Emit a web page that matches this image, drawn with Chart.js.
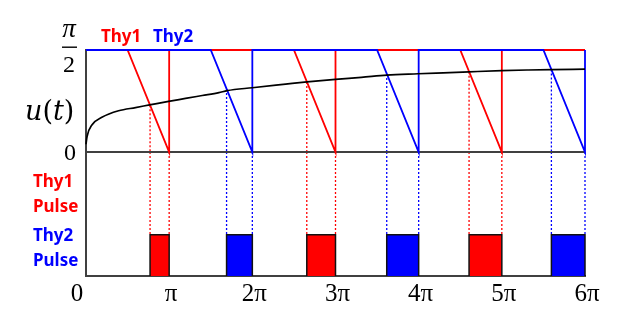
<!DOCTYPE html>
<html lang="en">
<head>
<meta charset="UTF-8">
<title>Thyristor firing pulses</title>
<script src="https://cdn.jsdelivr.net/npm/chart.js"></script>
<style>
  body { margin: 0; background: #fff; }
</style>
</head>
<body>
<canvas id="chart" width="626" height="329"></canvas>
<script>
const PI = Math.PI;

// x axis ticks, multiples of pi
const tickValues = [0, PI, 2 * PI, 3 * PI, 4 * PI, 5 * PI, 6 * PI];
const tickLabels = ['0', 'π', '2π', '3π', '4π', '5π', '6π'];

// control voltage u(t)
const uT   = [0, 0.04, 0.23, 0.6, 1.23, 1.87, 2.4, 3.12, 3.76, 4.39, 5.02, 5.33, 6.28, 7.54, 8.35, 9.42, 10.4, 11.36, 12.54, 13.5, 14.47, 15.7, 16.7, 17.58, 18.85];
const uVal = [0.12, 0.24, 0.42, 0.535, 0.635, 0.685, 0.725, 0.78, 0.825, 0.87, 0.915, 0.945, 0.99, 1.045, 1.08, 1.12, 1.15, 1.185, 1.205, 1.22, 1.235, 1.253, 1.263, 1.27, 1.275];

// sawtooth reference for each thyristor
const thy1RampT = [0, PI / 2, PI, PI, 5 * PI / 2, 3 * PI, 3 * PI, 9 * PI / 2, 5 * PI, 5 * PI, 6 * PI];
const thy1RampV = [PI / 2, PI / 2, 0, PI / 2, PI / 2, 0, PI / 2, PI / 2, 0, PI / 2, PI / 2];
const thy2RampT = [0, 3 * PI / 2, 2 * PI, 2 * PI, 7 * PI / 2, 4 * PI, 4 * PI, 11 * PI / 2, 6 * PI, 6 * PI];
const thy2RampV = [PI / 2, PI / 2, 0, PI / 2, PI / 2, 0, PI / 2, PI / 2, 0, PI / 2];

// firing points (ramp meets u) and pulse end
const thy1On  = [2.42, 8.34, 14.47];
const thy1OnU = [0.72, 1.08, 1.235];
const thy1Off = [PI, 3 * PI, 5 * PI];
const thy2On  = [5.31, 11.36, 17.58];
const thy2OnU = [0.97, 1.20, 1.27];
const thy2Off = [2 * PI, 4 * PI, 6 * PI];

const pulseTop = 1;   // lower panel runs 0..3
const pulseMax = 3;

const RED = '#ff0000', BLUE = '#0000ff', AXIS = '#404040';

function pts(xs, ys) {
    return xs.map(function(x, i) { return { x: x, y: ys[i] }; });
}

// dotted drop lines in the upper panel (from u down to 0)
function upperDrops(on, onU) {
    const out = [];
    on.forEach(function(t, i) {
        out.push({ x: t, y: onU[i] }, { x: t, y: 0 }, { x: t, y: null });
    });
    return out;
}

// dotted drop lines in the lower panel (down to the pulse top)
function lowerDrops(on, off) {
    const out = [];
    on.forEach(function(t, i) {
        out.push({ x: t, y: pulseMax }, { x: t, y: pulseTop }, { x: t, y: null });
        out.push({ x: off[i], y: pulseMax }, { x: off[i], y: pulseTop }, { x: off[i], y: null });
    });
    return out;
}

function line(data, color, width, extra) {
    return Object.assign({
        type: 'line', data: data, borderColor: color, borderWidth: width,
        pointRadius: 0, tension: 0, fill: false, clip: false, spanGaps: false, yAxisID: 'y'
    }, extra || {});
}

const datasets = [];

datasets.push(line(pts(uT, uVal), '#000', 1.7, { cubicInterpolationMode: 'monotone', order: 1 }));
datasets.push(line(pts(thy2RampT, thy2RampV), BLUE, 1.8, { order: 2 }));
datasets.push(line(pts(thy1RampT, thy1RampV), RED, 1.8, { order: 3 }));
datasets.push(line([{ x: 0, y: 0 }, { x: 6 * PI, y: 0 }], AXIS, 2, { order: 4 }));
datasets.push(line(upperDrops(thy1On, thy1OnU), RED, 1.3, { borderDash: [2, 2], order: 5 }));
datasets.push(line(upperDrops(thy2On, thy2OnU), BLUE, 1.3, { borderDash: [2, 2], order: 5 }));
datasets.push(line(lowerDrops(thy1On, thy1Off), RED, 1.3, { borderDash: [2, 2], yAxisID: 'y2', order: 6 }));
datasets.push(line(lowerDrops(thy2On, thy2Off), BLUE, 1.3, { borderDash: [2, 2], yAxisID: 'y2', order: 6 }));

// pulse blocks, filled down to the axis
[[thy1On, thy1Off, RED], [thy2On, thy2Off, BLUE]].forEach(function(p) {
    p[0].forEach(function(t, i) {
        const t2 = p[1][i];
        datasets.push(line([
            { x: t, y: 0 }, { x: t, y: pulseTop }, { x: t2, y: pulseTop }, { x: t2, y: 0 }
        ], '#111', 1.5, { yAxisID: 'y2', fill: 'origin', backgroundColor: p[2], order: 0 }));
    });
});

// text around the axes
const labelsPlugin = {
    id: 'labels',
    afterDraw: function(chart) {
        const ctx = chart.ctx;
        const x = chart.scales.x, y = chart.scales.y;
        ctx.save();
        ctx.fillStyle = '#000';
        ctx.textBaseline = 'alphabetic';
        ctx.textAlign = 'center';

        // x tick labels
        ctx.font = '25px "Liberation Serif"';
        tickValues.forEach(function(v, i) {
            const shift = i === 0 ? -9 : 2;
            ctx.fillText(tickLabels[i], x.getPixelForValue(v) + shift, 301);
        });

        // y labels: pi/2 fraction and 0
        const yTop = y.getPixelForValue(PI / 2);
        ctx.font = 'italic 27px "Liberation Serif"';
        ctx.fillText('π', 69, yTop - 13);
        ctx.font = '24px "Liberation Serif"';
        ctx.fillText('2', 69, yTop + 22);
        ctx.fillRect(62, yTop - 3.5, 15, 1.4);
        ctx.fillText('0', 70, y.getPixelForValue(0) + 8);

        // u(t)
        ctx.textAlign = 'left';
        let cx = 25;
        const by = 120;
        [['u', 'italic'], ['(', 'normal'], ['t', 'italic'], [')', 'normal']].forEach(function(s) {
            ctx.font = s[1] + ' 27px "DejaVu Serif"';
            ctx.fillText(s[0], cx, by);
            cx += ctx.measureText(s[0]).width;
        });

        // legend and pulse row names
        ctx.font = 'bold 17px "Noto Sans"';
        ctx.fillStyle = RED;
        ctx.fillText('Thy1', 101, 42);
        ctx.fillText('Thy1', 33, 187);
        ctx.fillText('Pulse', 33, 212);
        ctx.fillStyle = BLUE;
        ctx.fillText('Thy2', 153, 42);
        ctx.fillText('Thy2', 33, 241);
        ctx.fillText('Pulse', 33, 266);
        ctx.restore();
    }
};

const hidden = { display: false, drawTicks: false };

new Chart(document.getElementById('chart'), {
    type: 'line',
    data: { datasets: datasets },
    options: {
        responsive: false,
        animation: false,
        layout: { padding: { left: 86, right: 41, top: 50, bottom: 53 } },
        plugins: { legend: { display: false }, tooltip: { enabled: false } },
        scales: {
            x: {
                type: 'linear', min: 0, max: 6 * PI,
                grid: hidden, ticks: { display: false },
                border: { color: AXIS, width: 2 }
            },
            // stacked panels: the pulse panel is listed first so it sits at the bottom
            y2: {
                type: 'linear', min: 0, max: pulseMax, position: 'left',
                stack: 'panels', stackWeight: 123.4,
                grid: hidden, ticks: { display: false },
                border: { color: AXIS, width: 2 }
            },
            y: {
                type: 'linear', min: 0, max: PI / 2, position: 'left',
                stack: 'panels', stackWeight: 101.6,
                grid: hidden, ticks: { display: false },
                border: { color: AXIS, width: 2 }
            }
        }
    },
    plugins: [labelsPlugin]
});
</script>
</body>
</html>
